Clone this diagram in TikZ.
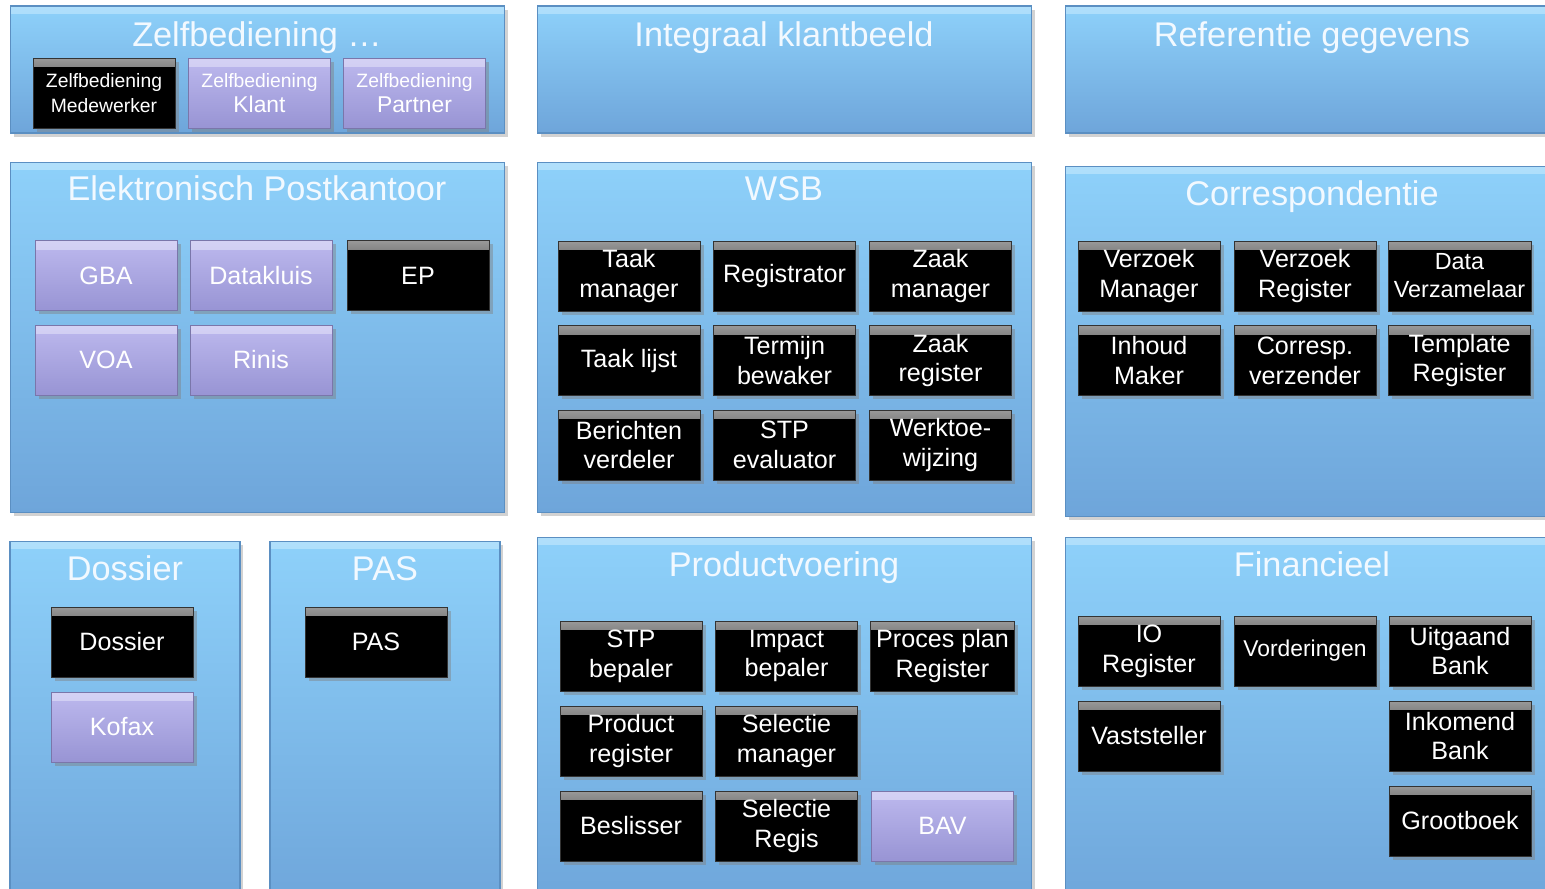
\documentclass[tikz,border=0pt]{standalone}
\usepackage{fontspec}
\setmainfont{Liberation Sans}
\usetikzlibrary{shadows}
\definecolor{panelTop}{HTML}{8ED1FA}
\definecolor{panelBot}{HTML}{6EA5DA}
\definecolor{panelEdge}{HTML}{5B8FC2}
\definecolor{lilaTop}{HTML}{BDB9EE}
\definecolor{lilaBot}{HTML}{9894D4}
\definecolor{titleWhite}{HTML}{F2F9FF}
\tikzset{
  panel/.style={draw=panelEdge, line width=0.6pt, top color=panelTop, bottom color=panelBot,
    drop shadow={opacity=0.35, shadow xshift=2pt, shadow yshift=-2pt},
    path picture={\shade[top color=panelTop!70!white, bottom color=panelTop]
      (path picture bounding box.north west) rectangle ([yshift=-4pt]path picture bounding box.north east);}},
  ptitle/.style={text=titleWhite, font=\fontsize{19.5}{23}\selectfont, text height=1.6ex, text depth=.3ex},
  comp/.style={fill=black, draw=black!80, minimum width=2.84cm, minimum height=1.4cm,
    align=center, text=white, font=\fontsize{14.3}{17}\selectfont,
    drop shadow={opacity=0.45, shadow xshift=2pt, shadow yshift=-2pt},
    path picture={\shade[top color=black!40, bottom color=black]
      (path picture bounding box.north west) rectangle ([yshift=-5pt]path picture bounding box.north east);}},
  lila/.style={comp, fill=lilaBot, draw=lilaBot!80!black, top color=lilaTop, bottom color=lilaBot,
    text=white,
    path picture={\shade[top color=lilaTop!65!white, bottom color=lilaTop]
      (path picture bounding box.north west) rectangle ([yshift=-5pt]path picture bounding box.north east);}},
}
\begin{document}
\begin{tikzpicture}[x=0.02cm,y=-0.02cm]
  \clip (0,0) rectangle (1545,889);
  \fill[white] (0,0) rectangle (1545,889);
  % panels
  \node[panel, minimum width=9.9cm, minimum height=2.54cm] (zb) at (257.5,69.5) {};
  \node[panel, minimum width=9.9cm, minimum height=2.54cm] (ikb) at (784.5,69.5) {};
  \node[panel, minimum width=9.9cm, minimum height=2.54cm] (ref) at (1312.5,69.5) {};
  \node[panel, minimum width=9.9cm, minimum height=7.02cm] (ep) at (257.5,337.5) {};
  \node[panel, minimum width=9.9cm, minimum height=7.02cm] (wsb) at (784.5,337.5) {};
  \node[panel, minimum width=9.9cm, minimum height=7.02cm] (cor) at (1312.5,341.5) {};
  \node[panel, minimum width=4.6cm, minimum height=7.38cm] (dos) at (125,725.5) {};
  \node[panel, minimum width=4.6cm, minimum height=7.38cm] (pas) at (385,725.5) {};
  \node[panel, minimum width=9.9cm, minimum height=7.46cm] (pv) at (784.5,723.5) {};
  \node[panel, minimum width=9.9cm, minimum height=7.46cm] (fin) at (1312.5,723.5) {};
  % titles
  \node[ptitle] (zbT) at (257,40) {Zelfbediening …};
  \node[ptitle] (ikbT) at (784,40) {Integraal klantbeeld};
  \node[ptitle] (refT) at (1312,40) {Referentie gegevens};
  \node[ptitle] (epT) at (257,194) {Elektronisch Postkantoor};
  \node[ptitle] (wsbT) at (784,194) {WSB};
  \node[ptitle] (corT) at (1312,199) {Correspondentie};
  \node[ptitle] (dosT) at (125,574) {Dossier};
  \node[ptitle] (pasT) at (385,574) {PAS};
  \node[ptitle] (pvT) at (784,570) {Productvoering};
  \node[ptitle] (finT) at (1312,570) {Financieel};
  % zelfbediening
  \node[comp, font=\fontsize{11}{14}\selectfont] (zbMw) at (104,93) {Zelfbediening\\Medewerker};
  \node[lila, font=\fontsize{11}{14}\selectfont] (zbKl) at (259.5,93) {Zelfbediening\\{\fontsize{13}{14}\selectfont Klant}};
  \node[lila, font=\fontsize{11}{14}\selectfont] (zbPa) at (414.5,93) {Zelfbediening\\{\fontsize{13}{14}\selectfont Partner}};
  % elektronisch postkantoor
  \node[lila] (gba) at (106,275.5) {GBA};
  \node[lila] (dk) at (261,275.5) {Datakluis};
  \node[comp] (epc) at (418,275.5) {EP};
  \node[lila] (voa) at (106,360) {VOA};
  \node[lila] (rinis) at (261,360) {Rinis};
  % wsb
  \node[comp] (tm) at (629,276) {Taak\\manager};
  \node[comp] (reg) at (784.5,276) {Registrator};
  \node[comp] (zm) at (940.5,276) {Zaak\\manager};
  \node[comp] (tl) at (629,360.5) {Taak lijst};
  \node[comp] (tb) at (784.5,360.5) {Termijn\\bewaker};
  \node[comp] (zr) at (940.5,360.5) {Zaak\\register};
  \node[comp] (bv) at (629,445) {Berichten\\verdeler};
  \node[comp] (stpe) at (784.5,445) {STP\\evaluator};
  \node[comp] (wtw) at (940.5,445) {Werktoe-\\wijzing};
  % correspondentie
  \node[comp] (vm) at (1149,276) {Verzoek\\Manager};
  \node[comp] (vr) at (1305,276) {Verzoek\\Register};
  \node[comp, font=\fontsize{13.3}{16}\selectfont] (dv) at (1459.5,276) {Data\\Verzamelaar};
  \node[comp] (im) at (1149,360.5) {Inhoud\\Maker};
  \node[comp] (cv) at (1305,360.5) {Corresp.\\verzender};
  \node[comp] (tr) at (1459.5,360.5) {Template\\Register};
  % dossier, pas
  \node[comp] (dosc) at (122,642) {Dossier};
  \node[lila] (kofax) at (122,727) {Kofax};
  \node[comp] (pasc) at (376,642) {PAS};
  % productvoering
  \node[comp] (stpb) at (631,656) {STP\\bepaler};
  \node[comp] (ib) at (786.5,656) {Impact\\bepaler};
  \node[comp] (ppr) at (942.5,656) {Proces plan\\Register};
  \node[comp] (pr) at (631,741) {Product\\register};
  \node[comp] (sm) at (786.5,741) {Selectie\\manager};
  \node[comp] (besl) at (631,826) {Beslisser};
  \node[comp] (sr) at (786.5,826) {Selectie\\Regis};
  \node[lila] (bav) at (942.5,826) {BAV};
  % financieel
  \node[comp] (ior) at (1149,651) {IO\\Register};
  \node[comp, font=\fontsize{13}{15}\selectfont] (vord) at (1305,651) {Vorderingen};
  \node[comp] (ub) at (1460,651) {Uitgaand\\Bank};
  \node[comp] (vst) at (1149,736) {Vaststeller};
  \node[comp] (ib2) at (1460,736) {Inkomend\\Bank};
  \node[comp] (gb) at (1460,821) {Grootboek};
\end{tikzpicture}
\end{document}
